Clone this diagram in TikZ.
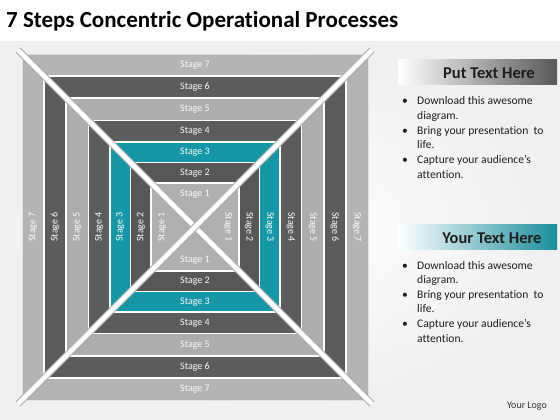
\documentclass[tikz,border=0pt]{standalone}
\usepackage{fontspec}
\setmainfont{Carlito}[Ligatures=NoCommon]
\definecolor{lt}{HTML}{B4B4B4}
\definecolor{dk}{HTML}{5C5C5C}
\definecolor{tl}{HTML}{1697A8}
\definecolor{hdr}{HTML}{585858}
\definecolor{thdr}{HTML}{1A8E9B}
\definecolor{txt}{HTML}{1E1E1E}
\definecolor{diagedge}{HTML}{A8A8A8}
\begin{document}
\begin{tikzpicture}[x=1pt,y=-1pt,
  lab/.style={text=white!95!gray,font=\fontsize{10}{12}\selectfont,inner sep=0pt},
  sep/.style={draw=white,line width=1.3pt},
  bul/.style={anchor=base west,text=txt,font=\fontsize{11.6}{14}\selectfont,inner sep=0pt},
  head/.style={text=txt,font=\bfseries\fontsize{16.5}{20}\selectfont,inner sep=0pt}]
\useasboundingbox (0,0) rectangle (560,420);
% background
\fill[white] (0,0) rectangle (560,420);
\shade[inner color=white,outer color=black!6] (0,42) rectangle (560,420);
% title
\node[anchor=base west,text=black,font=\bfseries\fontsize{23}{26}\selectfont,inner sep=0pt] (title) at (6,28) {7 Steps Concentric Operational Processes};
% concentric squares
\def\cx{195}\def\cy{227}
\foreach \r/\c in {173/lt,151/dk,129/lt!96!black,106.5/dk,85/tl,64.5/dk!95!black,44/lt!105!white}{
  \fill[\c] (\cx-\r,\cy-\r) rectangle (\cx+\r,\cy+\r);
}
\foreach \r in {151,129,106.5,85,64.5,44}{
  \path[sep] (\cx-\r,\cy-\r) rectangle (\cx+\r,\cy+\r);
}
\draw[black!12,line width=0.8pt] (\cx-173,\cy-173) rectangle (\cx+173,\cy+173);
% diagonals
\coordinate (tl) at (\cx-177,\cy-177);
\coordinate (br) at (\cx+177,\cy+177);
\coordinate (tr) at (\cx+177,\cy-177);
\coordinate (bl) at (\cx-177,\cy+177);
\foreach \a/\b in {tl/br,tr/bl}{
  \draw[diagedge,line width=7pt] (\a) -- (\b);
  \draw[black!6,line width=5pt] (\a) -- (\b);
  \draw[white,line width=3pt] (\a) -- (\b);
}
% stage labels
\foreach \k/\d in {1/33,2/54,3/74.75,4/95.75,5/117.75,6/140,7/162}{
  \node[lab] (t\k) at (\cx,\cy-\d) {Stage \k};
  \node[lab] (b\k) at (\cx,\cy+\d) {Stage \k};
  \node[lab,rotate=90] (l\k) at (\cx-\d,\cy) {Stage \k};
  \node[lab,rotate=-90] (r\k) at (\cx+\d,\cy) {Stage \k};
}
% panel 1
\shade[left color=white,right color=hdr] (398,60) rectangle (557,85);
\node[head] (h1) at (489,73) {Put Text Here};
% panel 2
\shade[left color=white,right color=thdr] (398,224) rectangle (557,249);
\node[head] (h2) at (492,238) {Your Text Here};
\foreach \o/\p in {0/a,164/b}{
  \node[bul] (\p b1) at (402,105+\o) {•};
  \node[bul] (\p 1) at (417,105+\o) {Download this awesome};
  \node[bul] (\p 2) at (417,119.6+\o) {diagram.};
  \node[bul] (\p b2) at (402,134.2+\o) {•};
  \node[bul] (\p 3) at (417,134.2+\o) {Bring your presentation\ \ to};
  \node[bul] (\p 4) at (417,148.8+\o) {life.};
  \node[bul] (\p b3) at (402,163.4+\o) {•};
  \node[bul] (\p 5) at (417,163.4+\o) {Capture your audience’s};
  \node[bul] (\p 6) at (417,178+\o) {attention.};
}
% logo
\node[text=black!80,font=\fontsize{10}{12}\selectfont,inner sep=0pt] (logo) at (527,406) {Your Logo};
\end{tikzpicture}
\end{document}
